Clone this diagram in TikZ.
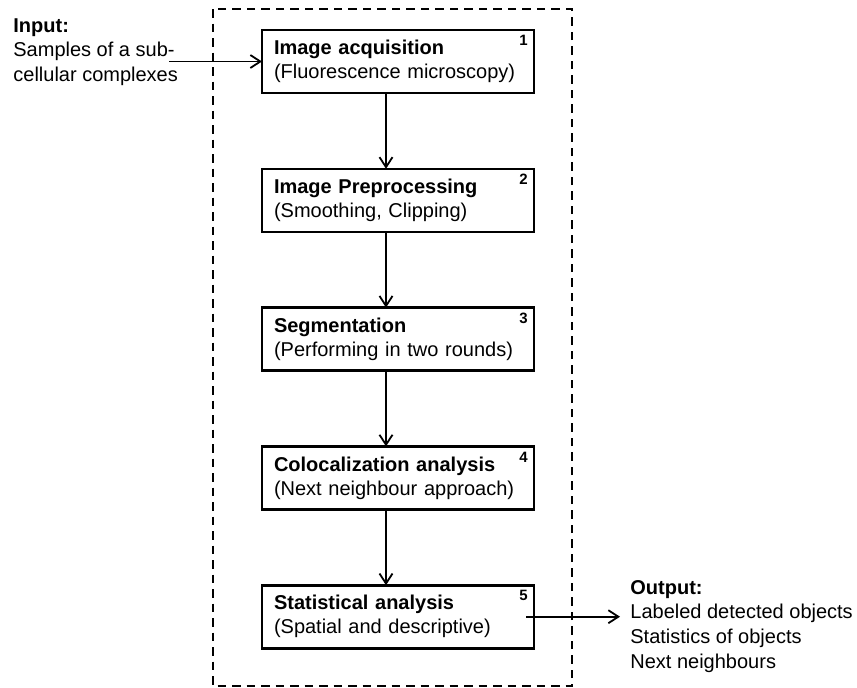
\documentclass[tikz,border=0pt]{standalone}
\usepackage{fontspec}
\setmainfont{Liberation Sans}
\usetikzlibrary{arrows.meta,positioning}

\tikzset{
  stage/.style={draw, line width=1.3pt, minimum width=136pt, minimum height=31.5pt,
    text width=124pt, inner xsep=6pt, inner ysep=0pt, outer sep=0pt, align=left,
    font=\fontsize{10}{12}\selectfont},
  stepnum/.style={inner sep=0pt, anchor=north east, font=\fontsize{7.5}{9}\selectfont\bfseries},
  flow/.style={line width=0.9pt, -{Straight Barb[length=5pt,width=6.5pt]}},
  iotext/.style={inner sep=0pt, anchor=north west, align=left, font=\fontsize{10}{12.3}\selectfont},
}

\begin{document}
\begin{tikzpicture}[x=0.5pt,y=-0.5pt,node distance=37.9pt]
\useasboundingbox (0,0) rectangle (857,687);

% dashed frame round the pipeline
\draw[line width=1.3pt, dash pattern=on 4.25pt off 3pt] (213,9) rectangle (572,686);

\node[stage] (acq) at (398,61.5) {\textbf{Image acquisition}\\(Fluorescence microscopy)};
\node[stage, below=of acq] (pre) {\textbf{Image Preprocessing}\\(Smoothing, Clipping)};
\node[stage, below=of pre] (seg) {\textbf{Segmentation}\\(Performing in two rounds)};
\node[stage, below=of seg] (coloc) {\textbf{Colocalization analysis}\\(Next neighbour approach)};
\node[stage, below=of coloc] (stat) {\textbf{Statistical analysis}\\(Spatial and descriptive)};

\foreach \n/\s in {1/acq,2/pre,3/seg,4/coloc,5/stat}
  \node[stepnum] (num\n) at ([shift={(-3pt,-2.5pt)}]\s.north east) {\n};

\foreach \a/\b in {acq/pre,pre/seg,seg/coloc,coloc/stat}
  \draw[flow] ([xshift=-6pt]\a.south) -- ([xshift=-6pt]\b.north);

% input and output
\node[iotext] (input) at (13,18) {\textbf{Input:}\\Samples of a sub-\\cellular complexes};
\path (acq.west) ++(-93,0) coordinate (inarrow);
\draw[flow] (inarrow) -- (acq.west);

\node[iotext] (output) at (630,580) {\textbf{Output:}\\Labeled detected objects\\Statistics of objects\\Next neighbours};
\path (stat.east) ++(86,0) coordinate (outarrow);
\draw[flow] ([xshift=-4pt]stat.east) -- (outarrow);
\end{tikzpicture}
\end{document}
